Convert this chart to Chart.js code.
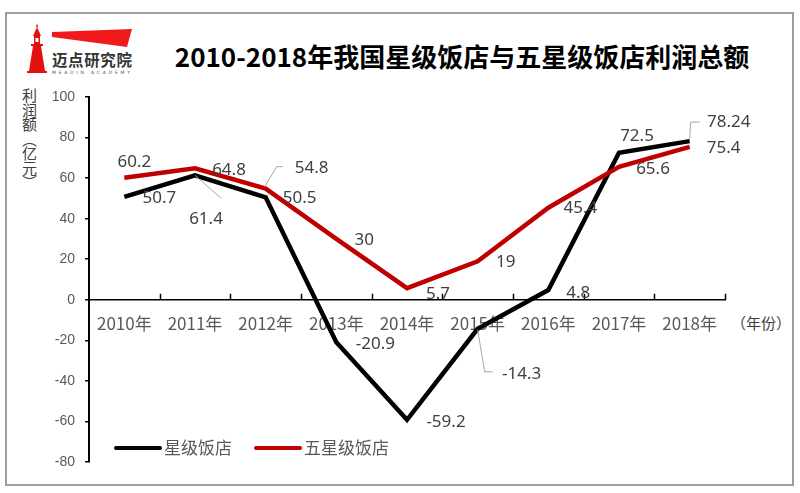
<!DOCTYPE html>
<html><head><meta charset="utf-8">
<script src="https://cdn.jsdelivr.net/npm/chart.js@4/dist/chart.umd.min.js"></script>
<style>
html,body{margin:0;padding:0;background:#fff;}
#wrap{position:relative;width:800px;height:493px;overflow:hidden;background:#fff;}
#frame{position:absolute;left:5px;top:12px;width:789px;height:474px;box-sizing:border-box;border:2px solid #9c9c9c;}
#chartBox{position:absolute;left:0;top:0;width:800px;height:493px;}
#title{position:absolute;left:112px;width:700px;top:40px;text-align:center;font:bold 26px "Noto Sans CJK SC",sans-serif;line-height:32px;color:#000;white-space:nowrap;}
#ytitle{position:absolute;left:21px;top:88px;writing-mode:vertical-rl;font:15px "Noto Sans CJK SC",sans-serif;line-height:16px;color:#404040;letter-spacing:-0.5px;}
#xunit{position:absolute;left:731px;top:312px;font:15px "Noto Sans CJK SC",sans-serif;color:#404040;white-space:nowrap;}
#logo{position:absolute;left:0;top:0;}
</style></head>
<body>
<div id="wrap">
  <div id="frame"></div>
  <svg id="logo" width="160" height="85" viewBox="0 0 160 85">
    <polygon points="37,23 38,27 36,27" fill="#e31010"/>
    <polygon points="33,36 37,27 41,36" fill="#e31010"/>
    <rect x="34" y="36" width="6" height="8" fill="#e31010"/>
    <rect x="35.5" y="38" width="3" height="4" fill="#fff"/>
    <rect x="31" y="44" width="12" height="2" fill="#e31010"/>
    <polygon points="33,46 41,46 45,71 29,71" fill="#e31010"/>
    <rect x="27" y="71" width="20" height="2" fill="#e31010"/>
    <polygon points="52,32 132,29 127,47 52,37" fill="#f01a1a"/>
    <text x="52" y="66" font-family="Noto Sans CJK SC" font-weight="bold" font-size="15.5" fill="#333" textLength="80">迈点研究院</text>
    <text x="52" y="73.5" font-family="DejaVu Sans" font-size="4.5" fill="#555" textLength="78" lengthAdjust="spacing">MEADIN ACADEMY</text>
  </svg>
  <div id="title">2010-2018年我国星级饭店与五星级饭店利润总额</div>
  <div id="ytitle">利润额（亿元）</div>
  <div id="xunit">（年份）</div>
  <div id="chartBox"><canvas id="c"></canvas></div>
</div>
<script>
// ---- data ----
const categories = ['2010年','2011年','2012年','2013年','2014年','2015年','2016年','2017年','2018年'];
const seriesNames = ['星级饭店','五星级饭店'];
const starHotelProfit = [50.7, 61.4, 50.5, -20.9, -59.2, -14.3, 4.8, 72.5, 78.24];
const fiveStarProfit  = [60.2, 64.8, 54.8, 30, 5.7, 19, 45.4, 65.6, 75.4];
const yTickValues = [-80, -60, -40, -20, 0, 20, 40, 60, 80, 100];

// ---- styles (label placement relative to each point) ----
const labelOffsets = [
  [[35,1],[11,44],[34,1],[39,2],[39,2],[44,45],[30,3],[18,-17],[39,-19]],
  [[10,-16],[34,2],[46,-20],[28,1],[31,6],[28,1],[32,0],[34,2],[34,1]]
];
const leaderLines = [
  {1:[[0,0],[26,23]], 5:[[0,1],[7,43],[15,43]], 8:[[0,-2],[1,-19],[10,-19]]},
  {2:[[-1,-2],[11,-22],[17,-22]]}
];
const colors = ['#000000', '#c00000'];
const labelFont = '17px "Noto Sans", "Liberation Sans", sans-serif';

const dataLabelPlugin = {
  id: 'dataLabels',
  afterDatasetsDraw(chart) {
    const ctx = chart.ctx;
    ctx.save();
    chart.data.datasets.forEach((ds, di) => {
      const meta = chart.getDatasetMeta(di);
      const leaders = leaderLines[di];
      meta.data.forEach((el, j) => {
        if (leaders[j]) {
          ctx.beginPath();
          ctx.strokeStyle = '#a6a6a6';
          ctx.lineWidth = 1;
          leaders[j].forEach((p, k) => {
            const x = el.x + p[0], y = el.y + p[1];
            if (k === 0) ctx.moveTo(x, y); else ctx.lineTo(x, y);
          });
          ctx.stroke();
        }
        const off = labelOffsets[di][j];
        ctx.font = labelFont;
        ctx.fillStyle = '#404040';
        ctx.textAlign = 'center';
        ctx.textBaseline = 'middle';
        ctx.fillText(String(ds.data[j]), el.x + off[0], el.y + off[1]);
      });
    });
    ctx.restore();
  }
};

const xTickPlugin = {
  id: 'xTickMarks',
  beforeDatasetsDraw(chart) {
    const xs = chart.scales.x, ys = chart.scales.y;
    const y0 = ys.getPixelForValue(0);
    const n = categories.length;
    const step = (xs.right - xs.left) / n;
    const ctx = chart.ctx;
    ctx.save();
    ctx.strokeStyle = '#000';
    ctx.lineWidth = 1.5;
    ctx.beginPath();
    for (let i = 1; i <= n; i++) {
      const x = Math.round(xs.left + i * step) + 0.5;
      ctx.moveTo(x, y0);
      ctx.lineTo(x, y0 - 6);
    }
    ctx.stroke();
    ctx.restore();
  }
};

const legendPlugin = {
  id: 'customLegend',
  afterDraw(chart) {
    const ctx = chart.ctx;
    const items = [{x1:116, x2:160, tx:164}, {x1:256, x2:300, tx:304}];
    const y = 448;
    ctx.save();
    chart.data.datasets.forEach((ds, i) => {
      const it = items[i];
      ctx.strokeStyle = ds.borderColor;
      ctx.lineWidth = 4;
      ctx.lineCap = 'round';
      ctx.beginPath();
      ctx.moveTo(it.x1, y); ctx.lineTo(it.x2, y);
      ctx.stroke();
      ctx.fillStyle = '#595959';
      ctx.font = '17px "Noto Sans CJK SC", sans-serif';
      ctx.textAlign = 'left';
      ctx.textBaseline = 'middle';
      ctx.fillText(ds.label, it.tx, y);
    });
    ctx.restore();
  }
};

new Chart(document.getElementById('c'), {
  type: 'line',
  data: {
    labels: categories,
    datasets: [
      {label: seriesNames[0], data: starHotelProfit, borderColor: colors[0], backgroundColor: colors[0], borderWidth: 4.5, order: 1},
      {label: seriesNames[1], data: fiveStarProfit, borderColor: colors[1], backgroundColor: colors[1], borderWidth: 4.5, order: 0}
    ]
  },
  options: {
    responsive: true,
    maintainAspectRatio: false,
    animation: false,
    elements: {
      line: {tension: 0, borderJoinStyle: 'miter', borderCapStyle: 'butt', fill: false},
      point: {radius: 0, hoverRadius: 0}
    },
    layout: {padding: {left: 0, right: 75, top: 97, bottom: 31}},
    plugins: {legend: {display: false}, tooltip: {enabled: false}, title: {display: false}},
    scales: {
      x: {
        type: 'category',
        position: {y: 0},
        offset: true,
        grid: {display: false, drawTicks: false},
        border: {display: true, color: '#000', width: 1.5},
        ticks: {color: '#595959', font: {size: 17, family: '"Noto Sans CJK SC", sans-serif'}, padding: 14, maxRotation: 0, autoSkip: false}
      },
      y: {
        min: -80, max: 100,
        afterBuildTicks: s => { s.ticks = yTickValues.map(v => ({value: v})); },
        afterFit: s => { s.width = 89; },
        grid: {drawOnChartArea: false, drawTicks: true, tickLength: 4, color: '#000', lineWidth: 1.5},
        border: {display: true, color: '#000', width: 2},
        ticks: {color: '#595959', font: {size: 14, family: '"Liberation Sans", sans-serif'}, padding: 10}
      }
    }
  },
  plugins: [xTickPlugin, dataLabelPlugin, legendPlugin]
});
</script>
</body></html>
